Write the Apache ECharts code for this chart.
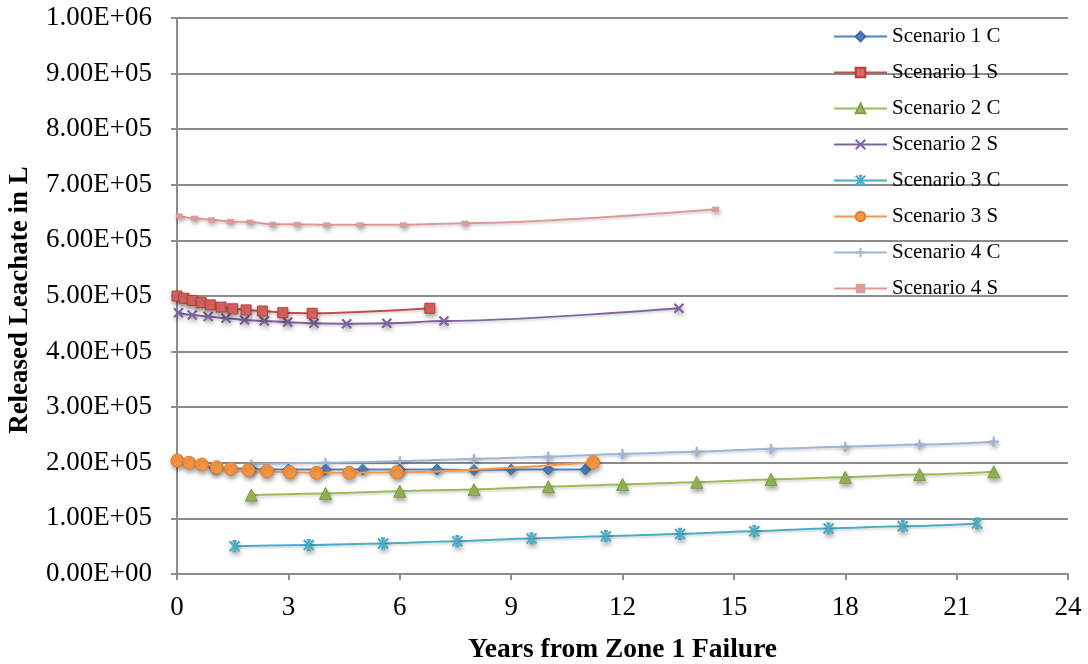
<!DOCTYPE html>
<html>
<head>
<meta charset="utf-8">
<script src="https://cdn.jsdelivr.net/npm/echarts@6/dist/echarts.min.js"></script>
<style>
  html, body { margin: 0; padding: 0; background: #fff; }
  #chart { width: 1088px; height: 664px; }
</style>
</head>
<body>
<div id="chart"></div>
<script>
// Released leachate volume (L) against years since Zone 1 failure
const seriesNames = ['Scenario 1 C', 'Scenario 1 S', 'Scenario 2 C', 'Scenario 2 S',
                     'Scenario 3 C', 'Scenario 3 S', 'Scenario 4 C', 'Scenario 4 S'];

const s1cYears = [1, 2, 3, 4, 5, 6, 7, 8, 9, 10, 11];
const s1cVol   = [1.91e5, 1.89e5, 1.88e5, 1.88e5, 1.88e5, 1.88e5, 1.88e5, 1.87e5, 1.88e5, 1.88e5, 1.88e5];

const s1sYears = [0, 0.19, 0.41, 0.65, 0.9, 1.19, 1.5, 1.86, 2.3, 2.85, 3.64, 6.81];
const s1sVol   = [5.00e5, 4.96e5, 4.92e5, 4.88e5, 4.84e5, 4.80e5, 4.77e5, 4.75e5, 4.73e5, 4.70e5, 4.69e5, 4.78e5];

const s2cYears = [2, 4, 6, 8, 10, 12, 14, 16, 18, 20, 22];
const s2cVol   = [1.42e5, 1.45e5, 1.49e5, 1.52e5, 1.57e5, 1.61e5, 1.65e5, 1.70e5, 1.74e5, 1.79e5, 1.84e5];

const s2sYears = [0.04, 0.41, 0.84, 1.32, 1.82, 2.35, 2.98, 3.69, 4.57, 5.65, 7.19, 13.52];
const s2sVol   = [4.70e5, 4.66e5, 4.63e5, 4.60e5, 4.57e5, 4.55e5, 4.53e5, 4.51e5, 4.50e5, 4.51e5, 4.55e5, 4.78e5];

const s3cYears = [1.55, 3.55, 5.55, 7.55, 9.55, 11.55, 13.55, 15.55, 17.55, 19.55, 21.55];
const s3cVol   = [5.0e4, 5.2e4, 5.5e4, 5.9e4, 6.4e4, 6.8e4, 7.2e4, 7.7e4, 8.2e4, 8.6e4, 9.1e4];

const s3sYears = [0.01, 0.33, 0.67, 1.07, 1.45, 1.92, 2.42, 3.04, 3.76, 4.64, 5.92, 11.21];
const s3sVol   = [2.04e5, 2.00e5, 1.97e5, 1.92e5, 1.89e5, 1.87e5, 1.85e5, 1.83e5, 1.82e5, 1.82e5, 1.83e5, 2.01e5];

const s4cYears = [2, 4, 6, 8, 10, 12, 14, 16, 18, 20, 22];
const s4cVol   = [1.97e5, 2.00e5, 2.03e5, 2.07e5, 2.11e5, 2.16e5, 2.20e5, 2.25e5, 2.29e5, 2.33e5, 2.38e5];

const s4sYears = [0.06, 0.47, 0.93, 1.44, 1.97, 2.58, 3.24, 4.03, 4.93, 6.1, 7.76, 14.51];
const s4sVol   = [6.44e5, 6.40e5, 6.37e5, 6.34e5, 6.33e5, 6.29e5, 6.29e5, 6.28e5, 6.28e5, 6.28e5, 6.31e5, 6.56e5];

const xTicks = { min: 0, max: 24, step: 3 };
const yTicks = { min: 0, max: 1e6, step: 1e5 };

const xTitle = 'Years from Zone 1 Failure';
const yTitle = 'Released Leachate in L';

function pairs(xs, ys) { return xs.map((x, i) => [x, ys[i]]); }

// 1.00E+06 style labels
function sci(v) {
  if (v === 0) return '0.00E+00';
  const e = Math.floor(Math.log10(v) + 1e-9);
  const m = v / Math.pow(10, e);
  return m.toFixed(2) + 'E' + (e < 0 ? '-' : '+') + String(Math.abs(e)).padStart(2, '0');
}

const SERIF = '"Liberation Serif", "DejaVu Serif", serif';
const shadow = { shadowColor: 'rgba(0,0,0,0.35)', shadowBlur: 4, shadowOffsetX: 1, shadowOffsetY: 3 };

const PATH_X    = 'path://M0 0L10 10M10 0L0 10';
const PATH_STAR = 'path://M0 0L10 10M10 0L0 10M5 0L5 10M3 0L7 0M3 10L7 10';
const PATH_PLUS = 'path://M5 0L5 10M0 5L10 5';

const styles = [
  { color: '#4F81BD', symbol: 'diamond', size: 11, item: { color: '#4F81BD', borderColor: '#3D6DA8', borderWidth: 1 } },
  { color: '#C0504D', symbol: 'rect', size: 10, item: { color: '#DB6662', borderColor: '#B0413E', borderWidth: 1 } },
  { color: '#9BBB59', symbol: 'triangle', size: 12, item: { color: '#9BBB59', borderColor: '#7E9C40', borderWidth: 1 } },
  { color: '#8064A2', symbol: PATH_X, size: 9, item: { color: 'none', borderColor: '#8064A2', borderWidth: 2.2 } },
  { color: '#4BACC6', symbol: PATH_STAR, size: 10, item: { color: 'none', borderColor: '#4BACC6', borderWidth: 2.2 } },
  { color: '#F79646', symbol: 'circle', size: 13, item: { color: '#F79646', borderColor: '#E07F30', borderWidth: 1 } },
  { color: '#9DB3D9', symbol: PATH_PLUS, size: 10, item: { color: 'none', borderColor: '#9DB3D9', borderWidth: 2.2 } },
  { color: '#DC9B99', symbol: 'rect', size: [7, 5], item: { color: '#DC9B99', borderColor: '#DC9B99', borderWidth: 0 } }
];

const dataSets = [
  pairs(s1cYears, s1cVol), pairs(s1sYears, s1sVol),
  pairs(s2cYears, s2cVol), pairs(s2sYears, s2sVol),
  pairs(s3cYears, s3cVol), pairs(s3sYears, s3sVol),
  pairs(s4cYears, s4cVol), pairs(s4sYears, s4sVol)
];

// draw order: later series sit on top
const drawOrder = [6, 7, 2, 4, 3, 1, 0, 5];

const series = drawOrder.map(i => ({
  name: seriesNames[i],
  type: 'line',
  data: dataSets[i],
  smooth: 0.3,
  smoothMonotone: 'x',
  symbol: styles[i].symbol,
  symbolSize: styles[i].size,
  showAllSymbol: true,
  lineStyle: { color: styles[i].color, width: 2, shadowColor: 'rgba(0,0,0,0.15)', shadowBlur: 2, shadowOffsetY: 2 },
  itemStyle: Object.assign({}, styles[i].item, shadow),
  emphasis: { disabled: true },
  z: 2 + drawOrder.indexOf(i)
}));

const chart = echarts.init(document.getElementById('chart'), null, { renderer: 'canvas' });
chart.setOption({
  animation: false,
  backgroundColor: '#ffffff',
  textStyle: { fontFamily: SERIF },
  grid: { left: 177, right: 20, top: 18, bottom: 90, containLabel: false, outerBoundsMode: 'none' },
  legend: {
    data: seriesNames,
    orient: 'vertical',
    left: 828,
    top: 21,
    itemWidth: 53,
    itemHeight: 12,
    itemGap: 15,
    textStyle: { fontFamily: SERIF, fontSize: 21, color: '#000' }
  },
  graphic: [{
    type: 'text',
    x: 20,
    y: 300,
    rotation: Math.PI / 2,
    style: {
      text: yTitle,
      fontFamily: SERIF,
      fontSize: 27,
      fontWeight: 'bold',
      fill: '#000',
      align: 'center',
      verticalAlign: 'middle'
    }
  }],
  xAxis: {
    type: 'value',
    min: xTicks.min, max: xTicks.max, interval: xTicks.step,
    name: xTitle,
    nameLocation: 'middle',
    nameGap: 62,
    nameTextStyle: { fontFamily: SERIF, fontSize: 27.5, fontWeight: 'bold', color: '#000' },
    axisLine: { show: true, lineStyle: { color: '#8c8c8c', width: 2 } },
    axisTick: { show: true, length: 6, lineStyle: { color: '#8c8c8c', width: 2 } },
    axisLabel: { fontFamily: SERIF, fontSize: 27, color: '#000', margin: 20 },
    splitLine: { show: false }
  },
  yAxis: {
    type: 'value',
    min: yTicks.min, max: yTicks.max, interval: yTicks.step,
    axisLine: { show: true, lineStyle: { color: '#8c8c8c', width: 2 } },
    axisTick: { show: true, length: 6, lineStyle: { color: '#8c8c8c', width: 2 } },
    axisLabel: { fontFamily: SERIF, fontSize: 27, color: '#000', margin: 25, formatter: sci },
    splitLine: { show: true, lineStyle: { color: '#8c8c8c', width: 2 } }
  },
  series: series
});
</script>
</body>
</html>
